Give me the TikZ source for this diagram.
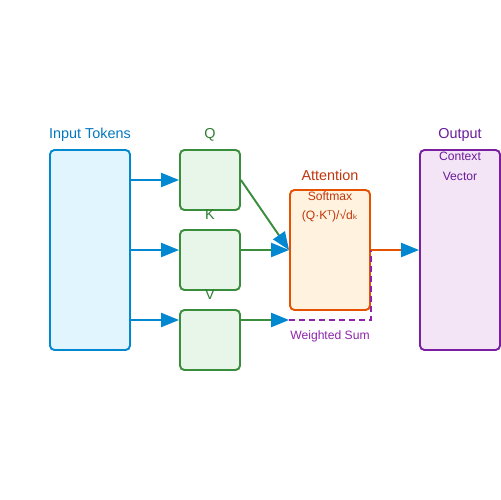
\documentclass[tikz,border=0pt]{standalone}
\usepackage{fontspec}
\setmainfont{Liberation Sans}
\newfontfamily\symfont{DejaVu Sans}
\usetikzlibrary{arrows.meta}
\definecolor{inpblue}{HTML}{0288D1}
\definecolor{inpfill}{HTML}{E1F5FE}
\definecolor{inptext}{HTML}{0277BD}
\definecolor{qkvgreen}{HTML}{388E3C}
\definecolor{qkvfill}{HTML}{E8F5E9}
\definecolor{qkvtext}{HTML}{2E7D32}
\definecolor{attorange}{HTML}{E65100}
\definecolor{attfill}{HTML}{FFF3E0}
\definecolor{atttext}{HTML}{BF360C}
\definecolor{outpurple}{HTML}{7B1FA2}
\definecolor{outfill}{HTML}{F3E5F5}
\definecolor{outtext}{HTML}{6A1B9A}
\definecolor{sumpurple}{HTML}{8E24AA}
\tikzset{
  box/.style={draw, line width=1.1pt, rounded corners=2.5pt, inner sep=0pt},
  bigtext/.style={font=\fontsize{8.2pt}{9pt}\selectfont},
  smalltext/.style={font=\fontsize{6.9pt}{8pt}\selectfont},
  flow/.style={line width=1.1pt, -{Triangle[length=10.2pt, width=8pt, color=inpblue]}},
}
\begin{document}
\begin{tikzpicture}[x=0.02cm, y=-0.02cm]
\useasboundingbox (0,0) rectangle (500,500);

% boxes
\node[box, draw=inpblue, fill=inpfill, minimum width=1.6cm, minimum height=4cm]
    (inp) at (90,250) {};
\node[box, draw=qkvgreen, fill=qkvfill, minimum width=1.2cm, minimum height=1.2cm]
    (q) at (210,180) {};
\node[box, draw=qkvgreen, fill=qkvfill, minimum width=1.2cm, minimum height=1.2cm]
    (k) at (210,260) {};
\node[box, draw=qkvgreen, fill=qkvfill, minimum width=1.2cm, minimum height=1.2cm]
    (v) at (210,340) {};
\node[box, draw=attorange, fill=attfill, minimum width=1.6cm, minimum height=2.4cm]
    (att) at (330,250) {};
\node[box, draw=outpurple, fill=outfill, minimum width=1.6cm, minimum height=4cm]
    (out) at (460,250) {};

% labels
\node[bigtext, text=inptext] (inplabel) at (90,135) {Input Tokens};
\node[bigtext, text=qkvtext] (qlabel) at (210,135) {Q};
\node[bigtext, text=qkvtext] (klabel) at (210,215) {K};
\node[bigtext, text=qkvtext] (vlabel) at (210,295) {V};
\node[bigtext, text=atttext] (attlabel) at (330,175) {Attention};
\node[smalltext, text=atttext] (softmax) at (330,196) {Softmax};
\node[smalltext, text=atttext] (formula) at (330,216)
    {(Q·K{\symfont ᵀ})/√d{\symfont ₖ}};
\node[bigtext, text=outtext] (outlabel) at (460,135) {Output};
\node[smalltext, text=outtext] (ctx) at (460,156) {Context};
\node[smalltext, text=outtext] (vec) at (460,176) {Vector};
\node[smalltext, text=sumpurple] (sumlabel) at (330,336) {Weighted Sum};

% connectors
\draw[flow, inpblue] (inp.east |- q.center) -- (q.west);
\draw[flow, inpblue] (inp.east |- 0,250) -- (q.west |- 0,250);
\draw[flow, inpblue] (inp.east |- 0,320) -- (q.west |- 0,320);
\draw[flow, qkvgreen] (q.east) -- (att.west);
\draw[flow, qkvgreen] (k.east |- att.west) -- (att.west);
\coordinate (vin) at (att.west |- 0,320);
\draw[flow, qkvgreen] (v.east |- vin) -- (vin);
\draw[line width=1.1pt, sumpurple, dash pattern=on 3.4pt off 2.3pt]
    (vin) -- (att.east |- vin) -- (att.east);
\draw[flow, attorange] (att.east) -- (out.west);
\end{tikzpicture}
\end{document}
